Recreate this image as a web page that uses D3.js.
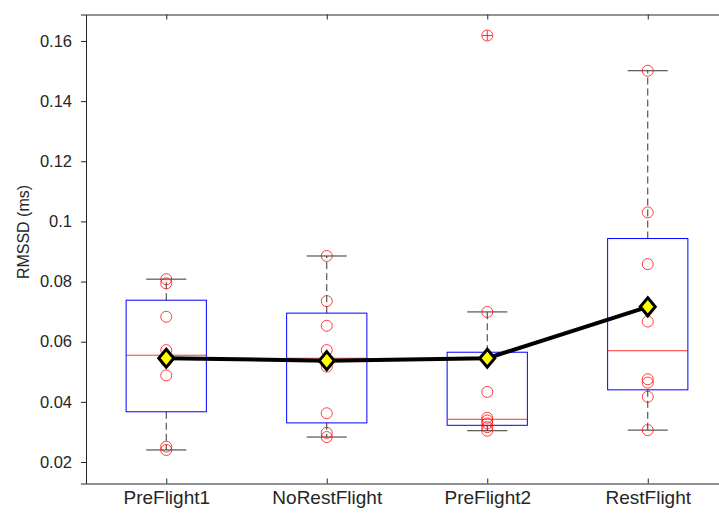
<!DOCTYPE html>
<html>
<head>
<meta charset="utf-8">
<script src="https://cdn.jsdelivr.net/npm/d3@7"></script>
<style>
	html, body { margin: 0; padding: 0; background: #fff; overflow: hidden; }
	svg { display: block; }
	text { font-family: "Liberation Sans", Arial, Helvetica, sans-serif; fill: #262626; }
</style>
</head>
<body>
<svg id="chart"></svg>
<script>
const categories = ['PreFlight1', 'NoRestFlight', 'PreFlight2', 'RestFlight'];

// RMSSD per subject, one list per condition
const preFlight1 = [0.0808, 0.0794, 0.0683, 0.0572, 0.0536, 0.0488, 0.0251, 0.0240];
const noRestFlight = [0.0885, 0.0735, 0.0653, 0.0572, 0.0517, 0.0362, 0.0297, 0.0283];
const preFlight2 = [0.1618, 0.0699, 0.0433, 0.0347, 0.0338, 0.0328, 0.0316, 0.0304];
const restFlight = [0.1501, 0.1030, 0.0858, 0.0667, 0.0475, 0.0464, 0.0417, 0.0306];

// box statistics as drawn
const q1 = [0.0367, 0.0330, 0.0322, 0.0440];
const medians = [0.0555, 0.0545, 0.0342, 0.0570];
const q3 = [0.0738, 0.0695, 0.0565, 0.0943];
const whiskerLow = [0.0240, 0.0283, 0.0304, 0.0306];
const whiskerHigh = [0.0808, 0.0885, 0.0699, 0.1501];
const means = [0.0545, 0.0537, 0.0545, 0.0716];

const outlierCategory = [3];
const outlierValue = [0.1618];

const yTicks = [0.02, 0.04, 0.06, 0.08, 0.1, 0.12, 0.14, 0.16];
const yLabel = 'RMSSD (ms)';

const width = 719, height = 514;
const margin = { left: 86, top: 14.5, right: 728, bottom: 483.5 };

const svg = d3.select('#chart')
	.attr('width', width)
	.attr('height', height);

const x = d3.scaleLinear().domain([0.5, 4.5]).range([margin.left, margin.right]);
const y = d3.scaleLinear().domain([0.01285, 0.1688]).range([margin.bottom, margin.top]);

const groups = [preFlight1, noRestFlight, preFlight2, restFlight];
const boxHalf = 0.25, capHalf = 0.125;

// axes
const yAxis = d3.axisLeft(y)
	.tickValues(yTicks)
	.tickSize(5)
	.tickPadding(9)
	.tickFormat(d3.format('~g'));

const gy = svg.append('g')
	.attr('transform', `translate(${margin.left},0)`)
	.call(yAxis);
gy.selectAll('text').style('font-size', '16.5px');

const xAxis = d3.axisBottom(x)
	.tickValues([1, 2, 3, 4])
	.tickSize(-5)
	.tickPadding(7)
	.tickFormat((d, i) => categories[i]);

const gx = svg.append('g')
	.attr('transform', `translate(0,${margin.bottom})`)
	.call(xAxis);
gx.selectAll('text').style('font-size', '19px');

const topAxis = d3.axisTop(x)
	.tickValues([1, 2, 3, 4])
	.tickSize(-5)
	.tickFormat('');

svg.append('g')
	.attr('transform', `translate(0,${margin.top})`)
	.call(topAxis);

svg.selectAll('.domain, .tick line')
	.attr('stroke', '#262626');

svg.append('text')
	.attr('transform', `translate(29,232) rotate(-90)`)
	.attr('text-anchor', 'middle')
	.style('font-size', '16px')
	.text(yLabel);

const plot = svg.append('g');

// whiskers
categories.forEach((c, i) => {
	const cx = x(i + 1);
	plot.append('line')
		.attr('x1', cx).attr('x2', cx)
		.attr('y1', y(q3[i])).attr('y2', y(whiskerHigh[i]))
		.attr('stroke', '#333').attr('stroke-dasharray', '7,4');
	plot.append('line')
		.attr('x1', cx).attr('x2', cx)
		.attr('y1', y(q1[i])).attr('y2', y(whiskerLow[i]))
		.attr('stroke', '#333').attr('stroke-dasharray', '7,4');
	[whiskerLow[i], whiskerHigh[i]].forEach(v => {
		plot.append('line')
			.attr('x1', x(i + 1 - capHalf)).attr('x2', x(i + 1 + capHalf))
			.attr('y1', y(v)).attr('y2', y(v))
			.attr('stroke', '#333');
	});
});

// boxes
plot.selectAll('rect.box')
	.data(categories)
	.join('rect')
	.attr('class', 'box')
	.attr('x', (d, i) => x(i + 1 - boxHalf))
	.attr('width', (d, i) => x(i + 1 + boxHalf) - x(i + 1 - boxHalf))
	.attr('y', (d, i) => y(q3[i]))
	.attr('height', (d, i) => y(q1[i]) - y(q3[i]))
	.attr('fill', 'none')
	.attr('stroke', '#0000ff');

plot.selectAll('line.median')
	.data(medians)
	.join('line')
	.attr('class', 'median')
	.attr('x1', (d, i) => x(i + 1 - boxHalf))
	.attr('x2', (d, i) => x(i + 1 + boxHalf))
	.attr('y1', d => y(d))
	.attr('y2', d => y(d))
	.attr('stroke', '#ff0000')
	.attr('stroke-opacity', 0.8);

// outliers (red +)
outlierValue.forEach((v, k) => {
	const cx = x(outlierCategory[k]), cy = y(v);
	plot.append('path')
		.attr('d', `M${cx - 5},${cy}H${cx + 5}M${cx},${cy - 5}V${cy + 5}`)
		.attr('stroke', '#ff0000')
		.attr('stroke-opacity', 0.85);
});

// individual points
groups.forEach((vals, i) => {
	plot.selectAll(null)
		.data(vals)
		.join('circle')
		.attr('cx', x(i + 1))
		.attr('cy', d => y(d))
		.attr('r', 5.5)
		.attr('fill', 'none')
		.attr('stroke', '#ff0000')
		.attr('stroke-opacity', 0.75);
});

// mean line with diamonds
const line = d3.line()
	.x((d, i) => x(i + 1))
	.y(d => y(d));

plot.append('path')
	.datum(means)
	.attr('d', line)
	.attr('fill', 'none')
	.attr('stroke', '#000')
	.attr('stroke-width', 4);

plot.selectAll('path.mean')
	.data(means)
	.join('path')
	.attr('class', 'mean')
	.attr('d', (d, i) => {
		const cx = x(i + 1), cy = y(d);
		return `M${cx},${cy - 9}L${cx + 7.5},${cy}L${cx},${cy + 9}L${cx - 7.5},${cy}Z`;
	})
	.attr('fill', '#ffff00')
	.attr('stroke', '#000')
	.attr('stroke-width', 3)
	.attr('stroke-linejoin', 'miter');
</script>
</body>
</html>
